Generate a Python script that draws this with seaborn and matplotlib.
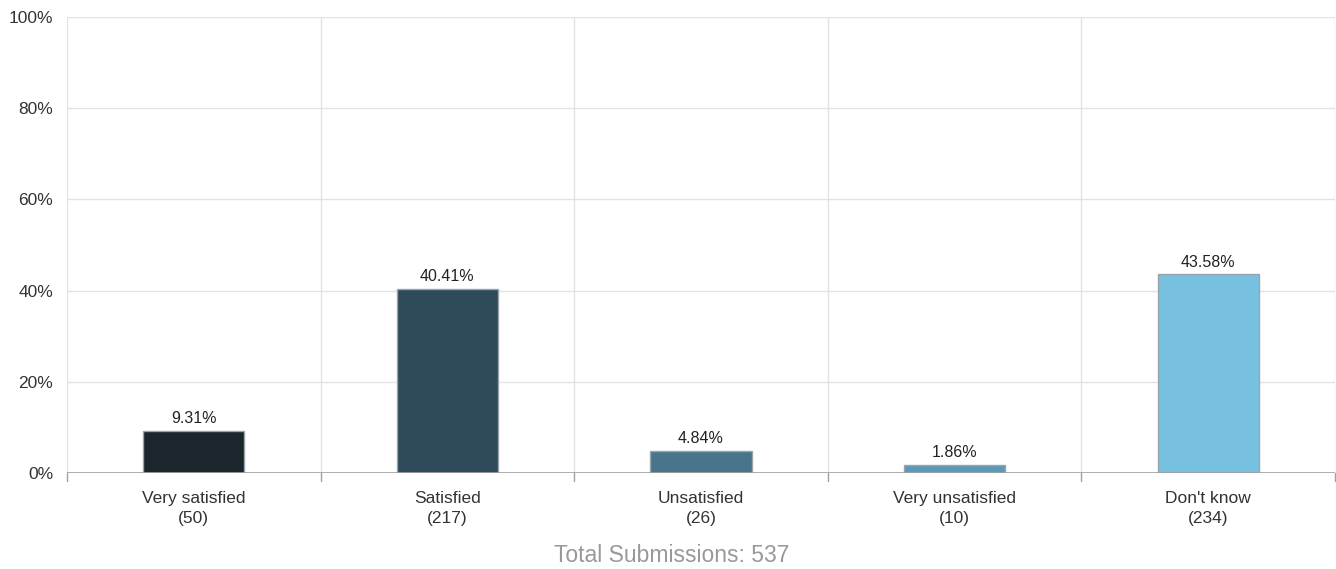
import matplotlib
matplotlib.use("Agg")
import matplotlib.pyplot as plt
import pandas as pd
import seaborn as sns

categories = ["Very satisfied", "Satisfied", "Unsatisfied", "Very unsatisfied", "Don't know"]
counts = [50, 217, 26, 10, 234]
percents = [9.31, 40.41, 4.84, 1.86, 43.58]
colors = ["#1b262c", "#2f4b5a", "#48748c", "#5b9ab5", "#77c0e0"]
total = 537

sns.set_theme(style="white")
plt.rcParams["font.family"] = ["Liberation Sans", "DejaVu Sans"]

df = pd.DataFrame({"cat": categories, "pct": percents})

fig = plt.figure(figsize=(13.36, 5.69), dpi=100)
ax = fig.add_axes([0.0501, 0.1687, 0.9492, 0.8013])

sns.barplot(data=df, x="cat", y="pct", hue="cat", palette=colors, legend=False,
            saturation=1, width=0.4, edgecolor="#9aa5ab", linewidth=1, ax=ax, zorder=3)

ax.set_xlim(-0.5, len(categories) - 0.5)
ax.set_ylim(0, 100)
ax.set_yticks([0, 20, 40, 60, 80, 100])
ax.set_yticklabels([f"{v}%" for v in [0, 20, 40, 60, 80, 100]], fontsize=12.5, color="#333333")
ax.set_xticks(range(len(categories)))
ax.set_xticklabels([f"{c}\n({n})" for c, n in zip(categories, counts)],
                   fontsize=12.5, color="#333333", linespacing=1.45)
ax.tick_params(axis="x", length=0, pad=13)
ax.tick_params(axis="y", length=0, pad=10)

bounds = [i - 0.5 for i in range(len(categories) + 1)]
for b in bounds:
    ax.axvline(b, color="#e3e3e3", linewidth=1, zorder=0)
for v in [20, 40, 60, 80, 100]:
    ax.axhline(v, color="#e3e3e3", linewidth=1, zorder=0)
ax.axhline(0, color="#a0a0a0", linewidth=1.2, zorder=4)
for b in bounds:
    ax.plot([b, b], [0, -1.8], color="#a0a0a0", linewidth=1, clip_on=False, zorder=4)

for i, p in enumerate(percents):
    ax.text(i, p + 1.0, f"{p:.2f}%", ha="center", va="bottom", fontsize=11.5, color="#222222")

for s in ax.spines.values():
    s.set_visible(False)
ax.set_xlabel("")
ax.set_ylabel("")

fig.text(0.503, 0.0246, f"Total Submissions: {total}", ha="center", va="center",
         fontsize=16.5, color="#999999")

fig.savefig("out.png", dpi=100)
